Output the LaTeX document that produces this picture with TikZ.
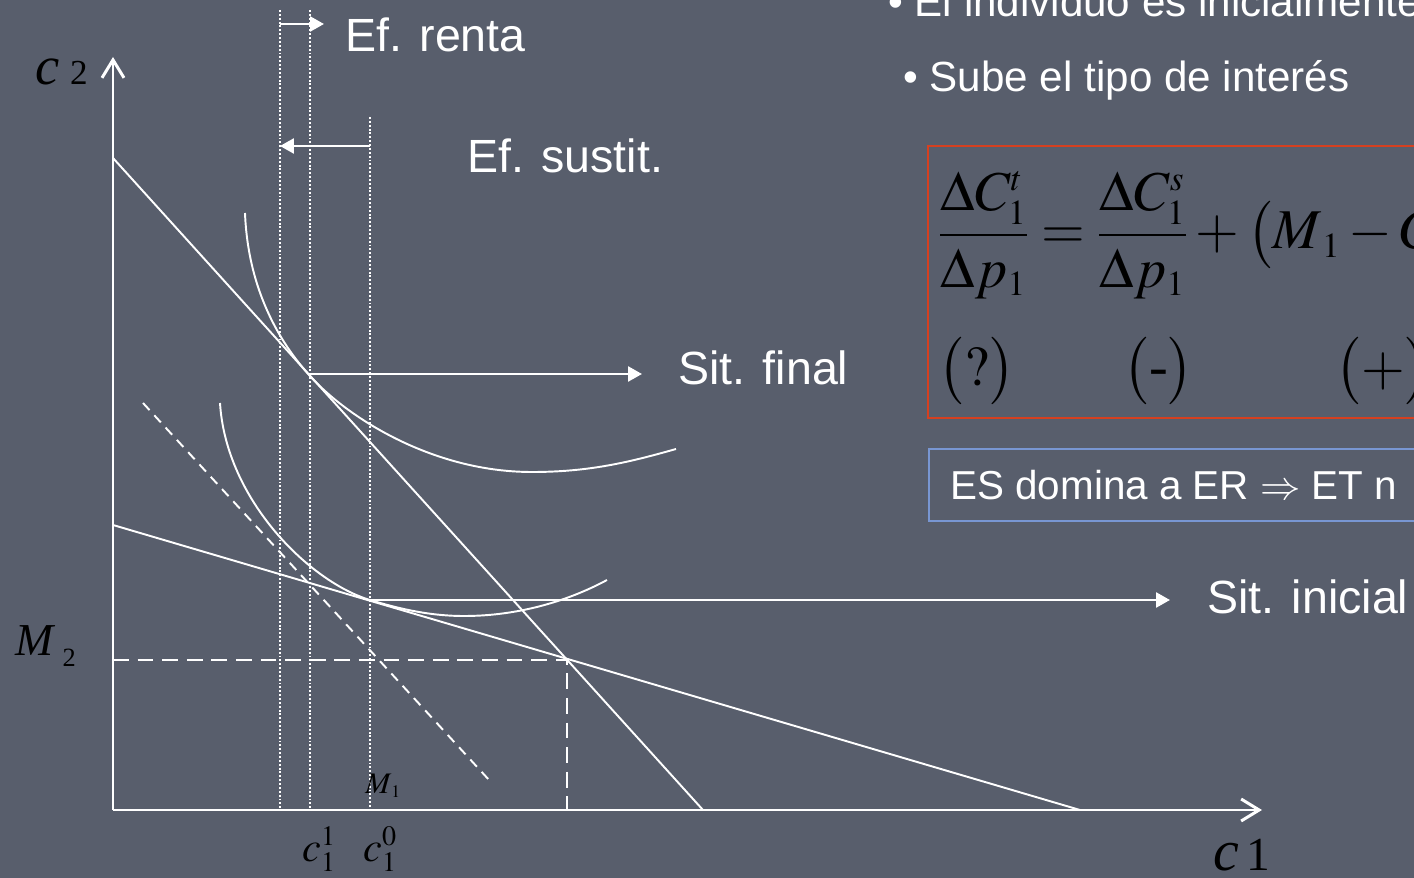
\documentclass[tikz,border=0pt]{standalone}
\usepackage{mathptmx}
\usepackage[no-math]{fontspec}
\setmainfont{Liberation Serif}
\setsansfont{Liberation Sans}
\usepackage{tikz}
\usetikzlibrary{arrows.meta}
\DeclareMathSizes{32}{32}{20}{14}
\DeclareMathSizes{24}{24}{16}{11}
\DeclareMathSizes{17}{17}{10}{8}
\definecolor{slide}{RGB}{88,94,108}
\definecolor{boxred}{RGB}{214,64,32}
\definecolor{boxblue}{RGB}{120,150,210}

\begin{document}
\begin{tikzpicture}[
    x=0.02cm, y=-0.02cm,
    lbl/.style={inner sep=0pt, anchor=base west, text=white,
                font=\sffamily\fontsize{26.5}{30}\selectfont},
    bul/.style={lbl, font=\sffamily\fontsize{24}{28}\selectfont},
    mlbl/.style={inner sep=0pt, anchor=base west, text=black},
    eq/.style={inner sep=0pt, anchor=west, text=black,
               font=\fontsize{32}{38}\selectfont},
    axis/.style={white, line width=1.7pt,
                 -{Straight Barb[length=0.36cm,width=0.44cm,line width=1.7pt]}},
    budget/.style={white, line width=1.1pt},
    indif/.style={white, line width=1.1pt},
    guide/.style={white, line width=1pt, dash pattern=on 1.1pt off 1.1pt},
    endow/.style={white, line width=1.6pt, dash pattern=on 9pt off 5pt},
    comp/.style={white, line width=1.1pt, dash pattern=on 5.5pt off 4pt},
    eff/.style={white, line width=1.5pt, -{Triangle[length=0.28cm,width=0.3cm]}},
    frame/.style={line width=1.1pt}
]
\useasboundingbox (0,0) rectangle (1414,878);
\clip (0,0) rectangle (1414,878);
\fill[slide] (0,0) rectangle (1414,878);

\coordinate (O)    at (113,810);
\coordinate (ytip) at (113,57);
\coordinate (xtip) at (1262,810);
\coordinate (A)    at (113,158);
\coordinate (B)    at (703,810);
\coordinate (C)    at (113,525);
\coordinate (D)    at (1080,810);
\coordinate (E)    at (567,660);
\coordinate (Efin) at (310,376);
\coordinate (Eini) at (370,600);
\coordinate (Esub) at (280,146);

% guides
\draw[guide] (280,10) -- (280,810);
\draw[guide] (310,10) -- (310,810);
\draw[guide] (370,117) -- (370,810);
\draw[endow] (E -| O) -- (E) -- (E |- O);
\draw[comp] (143,403) -- (490,781);

% budget lines and curves
\draw[budget] (A) -- (B);
\draw[budget] (C) -- (D);
\draw[indif] (245,213) .. controls (248,290) and (280,343) .. (Efin)
    .. controls (345,415) and (430,472) .. (532,472)
    .. controls (590,472) and (630,462) .. (676,449);
\draw[indif] (220,403) .. controls (226,500) and (310,582) .. (Eini)
    .. controls (400,609) and (430,616) .. (464,616)
    .. controls (520,616) and (570,600) .. (607,580);

\draw[axis] (O) -- (ytip);
\draw[axis] (O) -- (xtip);

% labels
\node[lbl] (renta)  at (345,52)   {Ef. renta};
\node[lbl] (sustit) at (467,173)  {Ef. sustit.};
\node[lbl] (final)  at (678,385)  {Sit. final};
\node[lbl] (inic)   at (1207,613) {Sit. inicial};

\coordinate (rentaS) at (280,24);
\coordinate (rentaT) at (324,24);
\coordinate (sustS)  at (370,146);
\coordinate (finT)   at (642,374);
\coordinate (iniT)   at (1170,600);
\draw[eff] (rentaS) -- (rentaT);
\draw[eff] (sustS) -- (Esub);
\draw[eff] (Efin |- finT) -- (finT);
\draw[eff] (Eini) -- (iniT);

\node[mlbl, font=\fontsize{31}{31}\selectfont] (ylab) at (35,85)
    {\textit{c}\hspace{6pt}{\fontsize{20}{20}\selectfont 2}};
\node[mlbl, font=\fontsize{33}{33}\selectfont] (xlab) at (1213,870)
    {\textit{c}\hspace{4pt}{\fontsize{27}{27}\selectfont 1}};
\node[mlbl, font=\fontsize{26}{26}\selectfont] (mtwo) at (15,655)
    {\textit{M}\hspace{4pt}\raisebox{-6.8pt}{\fontsize{15}{15}\selectfont 2}};
\node[mlbl, font=\fontsize{17}{17}\selectfont] (mone) at (365,793) {$M_{\,1}$};
\node[mlbl, font=\fontsize{24}{24}\selectfont] (cone)  at (302,861) {$c_{1}^{1}$};
\node[mlbl, font=\fontsize{24}{24}\selectfont] (czero) at (363,861) {$c_{1}^{0}$};

% right panel
\node[bul] (ini)  at (888,17) {\textbullet\ El individuo es inicialmente};
\node[bul] (sube) at (903,92) {\textbullet\ Sube el tipo de inter\'es};

\draw[frame, boxred] (928,146) rectangle (1430,418);
\node[eq] (slut) at (938,235)
    {$\displaystyle\frac{\Delta C_{1}^{t}}{\Delta p_{1}}=\frac{\Delta C_{1}^{s}}{\Delta p_{1}}+\bigl(M_{\,1}-C$};
\node[eq] (sgn1) at (938,371)  {$\bigl(?\bigr)$};
\node[eq] (sgn2) at (1123,371) {$\bigl(\mbox{-}\bigr)$};
\node[eq] (sgn3) at (1335,371) {$\bigl(+\bigr)$};

\draw[frame, boxblue] (929,449) rectangle (1430,521);
\node[bul, font=\sffamily\fontsize{23}{27}\selectfont] (domina) at (950,500)
    {ES domina a ER $\Rightarrow$ ET n};
\end{tikzpicture}
\end{document}
